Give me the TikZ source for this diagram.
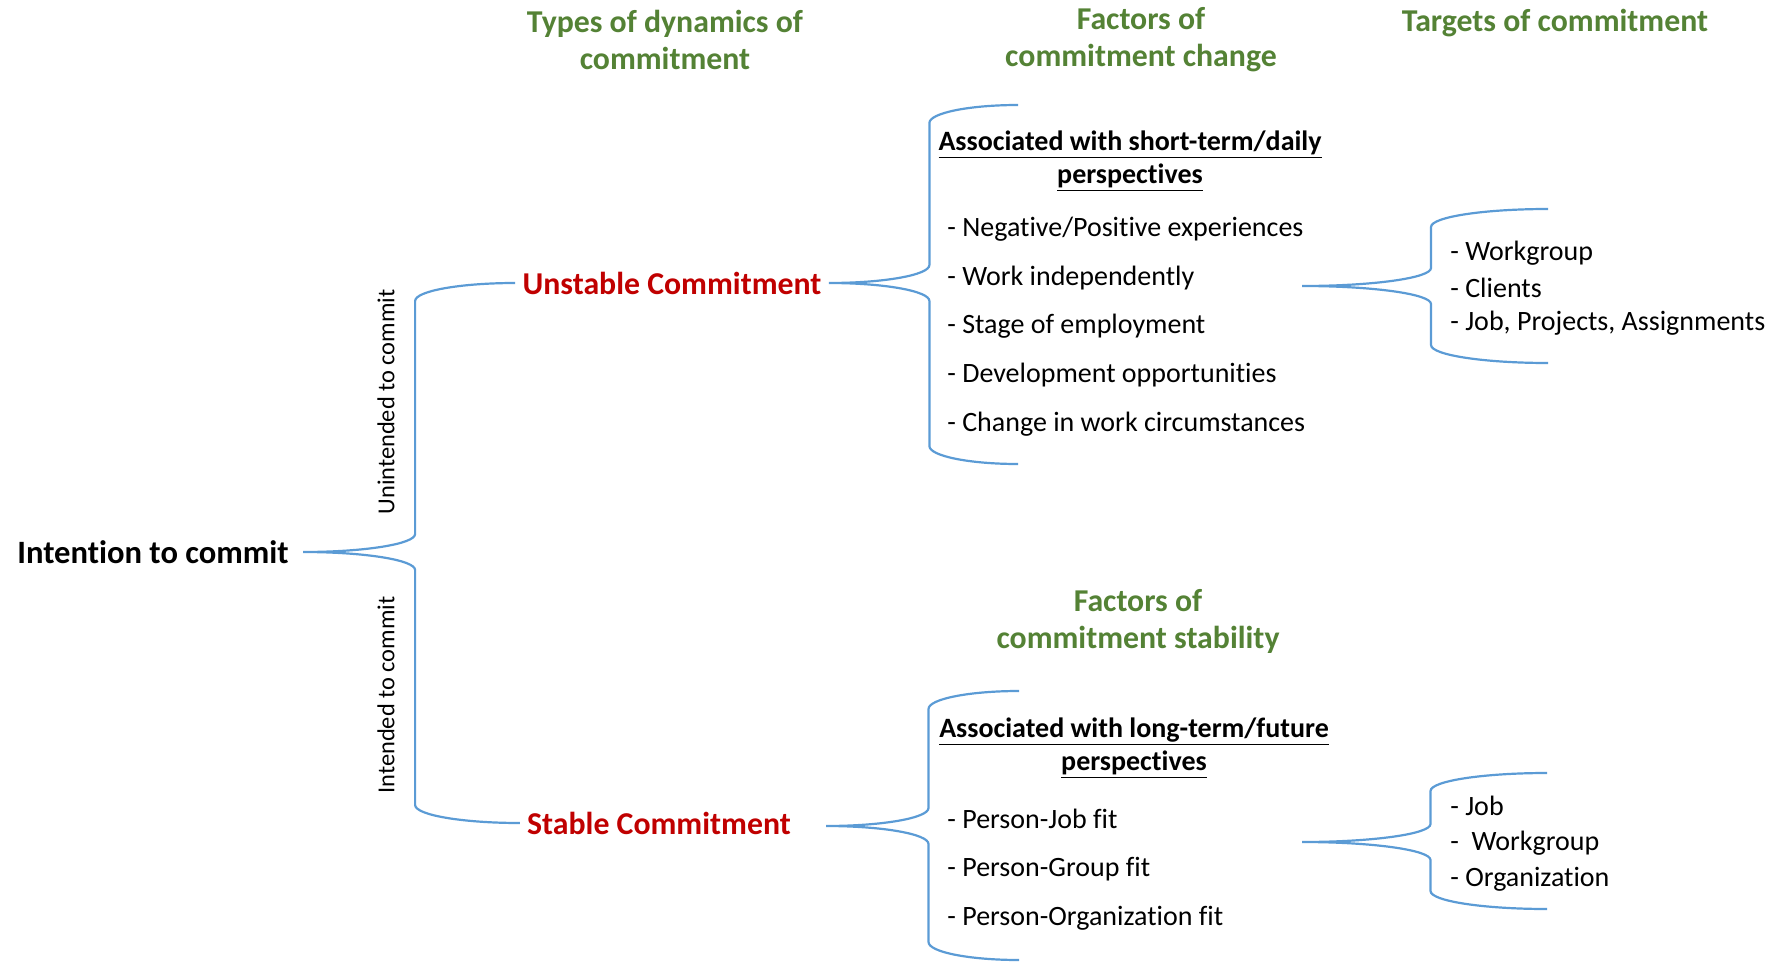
\documentclass[tikz,border=0pt]{standalone}
\usepackage{fontspec}
\setmainfont{Carlito}[Ligatures=CommonOff]
\usetikzlibrary{calc}

\definecolor{headgreen}{HTML}{548235}
\definecolor{kindred}{HTML}{C00000}
\definecolor{braceblue}{HTML}{5B9BD5}

\tikzset{
  brace/.style={draw=braceblue, line width=1.1pt},
  heading/.style={font=\fontsize{15.9}{18.5}\selectfont\bfseries, text=headgreen, align=center, inner sep=3.5pt},
  kind/.style={font=\fontsize{15.9}{19}\selectfont\bfseries, text=kindred, inner sep=3.5pt},
  root/.style={font=\fontsize{16.3}{19}\selectfont\bfseries, inner ysep=3.5pt, inner xsep=7pt},
  side/.style={font=\fontsize{12.2}{14}\selectfont, rotate=90, inner sep=3.5pt},
  subhead/.style={font=\fontsize{14}{16.5}\selectfont\bfseries, align=center, inner sep=3.5pt},
  item/.style={font=\fontsize{14}{16.5}\selectfont, anchor=west, inner sep=3.5pt},
}

% curly bracket opening to the right: tip, upper end, lower end
\newcommand{\curly}[3]{%
  \draw[brace] let \p1=(#1), \p2=(#2), \p3=(#3), \n1={(\x1+\x2)/2+3pt} in
    (\p2) .. controls ({\x2-0.55*(\x2-\n1)},\y2) and (\n1,{\y2-4pt}) .. (\n1,{\y2-9pt})
    -- (\n1,{\y1+9pt}) .. controls (\n1,{\y1+4pt}) and ({\x1+0.55*(\n1-\x1)},\y1) .. (\p1)
    .. controls ({\x1+0.55*(\n1-\x1)},\y1) and (\n1,{\y1-4pt}) .. (\n1,{\y1-9pt})
    -- (\n1,{\y3+9pt}) .. controls (\n1,{\y3+4pt}) and ({\x3-0.55*(\x3-\n1)},\y3) .. (\p3);
}

\begin{document}
\begin{tikzpicture}[x=0.5pt,y=-0.5pt]
 \useasboundingbox (0,0) rectangle (1782,963);

 % column headings
 \node[heading] (h-types) at (665,40) {Types of dynamics of\\commitment};
 \node[heading] (h-change) at (1141,40) {Factors of\\commitment change};
 \node[heading] (h-targets) at (1555,23) {Targets of commitment};
 \node[heading] (h-stab) at (1138,621) {Factors of\\commitment stability};

 % intention and the two kinds of commitment
 \node[root] (intent) at (153,552) {Intention to commit};
 \node[kind] (unstable) at (672,283) {Unstable Commitment};
 \node[kind] (stable) at (659,823) {Stable Commitment};
 \node[side] (unint) at (386,402) {Unintended to commit};
 \node[side] (int) at (386,695) {Intended to commit};

 % factors of change
 \node[subhead] (short) at (1130,161) {\underline{Associated with short-term/daily}\\\underline{perspectives}};
 \node[item] (c1) at (940,229) {- Negative/Positive experiences};
 \node[item] (c2) at (940,278) {- Work independently};
 \node[item] (c3) at (940,326) {- Stage of employment};
 \node[item] (c4) at (940,375) {- Development opportunities};
 \node[item] (c5) at (940,424) {- Change in work circumstances};

 % factors of stability
 \node[subhead] (long) at (1134,748) {\underline{Associated with long-term/future}\\\underline{perspectives}};
 \node[item] (s1) at (940,819) {- Person-Job fit};
 \node[item] (s2) at (940,869) {- Person-Group fit};
 \node[item] (s3) at (940,918) {- Person-Organization fit};

 % targets
 \node[item] (ut1) at (1443,253) {- Workgroup};
 \node[item] (ut2) at (1443,288) {- Clients};
 \node[item] (ut3) at (1443,323) {- Job, Projects, Assignments};
 \node[item] (st1) at (1443,806) {- Job};
 \node[item] (st2) at (1443,843) {-\ \ Workgroup};
 \node[item] (st3) at (1443,879) {- Organization};

 % bracket ends
 \coordinate (u-top) at (1018,105);
 \coordinate (u-bot) at (1018,464);
 \coordinate (s-tip) at (826,826);
 \coordinate (s-top) at (1019,691);
 \coordinate (s-bot) at (1019,960);
 \coordinate (ut-tip) at (1302,286);
 \coordinate (ut-top) at (1548,209);
 \coordinate (ut-bot) at (1548,363);
 \coordinate (st-tip) at (1302,842);
 \coordinate (st-top) at (1547,773);
 \coordinate (st-bot) at (1547,909);

 \curly{intent.east}{unstable.west}{stable.west}
 \curly{unstable.east}{u-top}{u-bot}
 \curly{s-tip}{s-top}{s-bot}
 \curly{ut-tip}{ut-top}{ut-bot}
 \curly{st-tip}{st-top}{st-bot}
\end{tikzpicture}
\end{document}
